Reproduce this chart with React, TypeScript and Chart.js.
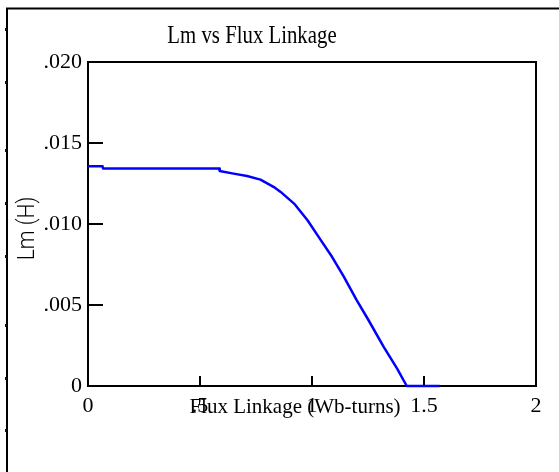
import React, { useEffect, useRef } from "react";
import { Chart, registerables } from "chart.js";

Chart.register(...registerables);

// ---- data ----
const fluxLinkage = [
  0, 0.065, 0.067, 0.585, 0.588, 0.65, 0.71, 0.77, 0.83, 0.86, 0.92, 0.98,
  1.04, 1.09, 1.14, 1.2, 1.25, 1.32, 1.38, 1.423, 1.57,
];
const lmValues = [
  0.01356, 0.01356, 0.01342, 0.01342, 0.01327, 0.01311, 0.01296, 0.01274,
  0.01228, 0.01198, 0.01126, 0.01023, 0.00899, 0.00796, 0.0068, 0.00529,
  0.00412, 0.00241, 0.00107, 0, 0,
];
const xTickValues = [0, 0.5, 1, 1.5, 2];
const xTickLabels = ["0", ".5", "1", "1.5", "2"];
const yTickValues = [0, 0.005, 0.01, 0.015, 0.02];
const yTickLabels = ["0", ".005", ".010", ".015", ".020"];
const chartTitle = "Lm vs Flux Linkage";
const xTitle = "Flux Linkage (Wb-turns)";
const yTitle = "Lm (H)";

const SERIF = "'Liberation Serif', 'Times New Roman', serif";
const SANS_LIGHT = "300 24px Roboto, 'Liberation Sans', Arial, sans-serif";

const framePlugin = {
  id: "frame",
  beforeDatasetsDraw(chart: any) {
    const { ctx, chartArea: a, scales } = chart;
    ctx.save();
    ctx.strokeStyle = "#000";
    ctx.lineWidth = 2;
    ctx.strokeRect(a.left, a.top, a.right - a.left, a.bottom - a.top);
    ctx.beginPath();
    yTickValues.forEach((v) => {
      const py = scales.y.getPixelForValue(v);
      ctx.moveTo(a.left, py);
      ctx.lineTo(a.left + 15, py);
    });
    xTickValues.forEach((v) => {
      const px = scales.x.getPixelForValue(v);
      ctx.moveTo(px, a.bottom);
      ctx.lineTo(px, a.bottom - 10);
    });
    ctx.stroke();

    // outer page frame
    ctx.lineWidth = 2;
    ctx.beginPath();
    ctx.moveTo(7, 472);
    ctx.lineTo(7, 8.5);
    ctx.lineTo(559, 8.5);
    ctx.stroke();
    ctx.fillStyle = "#111";
    [29, 82, 150, 203, 256, 325, 378, 430].forEach((py) => {
      ctx.fillRect(5, py - 1, 2, 3);
    });
    ctx.restore();
  },
  afterDraw(chart: any) {
    const { ctx } = chart;
    ctx.save();
    ctx.fillStyle = "#000";
    // chart title (condensed look)
    ctx.save();
    ctx.translate(252, 43);
    ctx.scale(0.8, 1);
    ctx.font = `26px ${SERIF}`;
    ctx.textAlign = "center";
    ctx.textBaseline = "alphabetic";
    ctx.fillText(chartTitle, 0, 0);
    ctx.restore();

    // x axis title
    ctx.font = `21px ${SERIF}`;
    ctx.textAlign = "center";
    ctx.textBaseline = "alphabetic";
    ctx.fillText(xTitle, 295, 413);

    // y axis title
    ctx.save();
    ctx.translate(34, 228.5);
    ctx.rotate(-Math.PI / 2);
    ctx.scale(0.88, 1);
    ctx.font = SANS_LIGHT;
    ctx.textAlign = "center";
    ctx.textBaseline = "alphabetic";
    ctx.fillText(yTitle, 0, 0);
    ctx.restore();
    ctx.restore();
  },
};

export default function App() {
  const ref = useRef<HTMLCanvasElement>(null);

  useEffect(() => {
    if (!ref.current) return;
    const points = fluxLinkage.map((x, i) => ({ x, y: lmValues[i] }));
    const chart = new Chart(ref.current, {
      type: "line",
      data: {
        datasets: [
          {
            data: points,
            borderColor: "#0000ff",
            backgroundColor: "#0000ff",
            borderWidth: 2.5,
            borderJoinStyle: "round",
            borderCapStyle: "butt",
            pointRadius: 0,
            tension: 0,
            fill: false,
            clip: 6,
          } as any,
        ],
      },
      options: {
        responsive: false,
        animation: false,
        devicePixelRatio: 1,
        layout: { padding: { left: 0, top: 62, right: 23, bottom: 0 } },
        plugins: {
          legend: { display: false },
          title: { display: false },
          tooltip: { enabled: false },
        },
        scales: {
          x: {
            type: "linear",
            min: 0,
            max: 2,
            afterFit: (s: any) => {
              s.height = 86;
            },
            afterBuildTicks: (s: any) => {
              s.ticks = xTickValues.map((v) => ({ value: v }));
            },
            grid: { display: false, drawTicks: false },
            border: { display: false },
            ticks: {
              padding: 7,
              autoSkip: false,
              maxRotation: 0,
              color: "#000",
              font: { family: SERIF, size: 22 },
              callback: (v: any) => {
                const i = xTickValues.indexOf(Number(v));
                return i >= 0 ? xTickLabels[i] : "";
              },
            },
          },
          y: {
            type: "linear",
            min: 0,
            max: 0.02,
            afterFit: (s: any) => {
              s.width = 88;
            },
            afterBuildTicks: (s: any) => {
              s.ticks = yTickValues.map((v) => ({ value: v }));
            },
            grid: { display: false, drawTicks: false },
            border: { display: false },
            ticks: {
              padding: 6,
              autoSkip: false,
              color: "#000",
              font: { family: SERIF, size: 22 },
              callback: (v: any) => {
                const i = yTickValues.findIndex((t) => Math.abs(t - Number(v)) < 1e-9);
                return i >= 0 ? yTickLabels[i] : "";
              },
            },
          },
        },
      },
      plugins: [framePlugin],
    });
    return () => chart.destroy();
  }, []);

  return (
    <div style={{ position: "fixed", left: 0, top: 0, width: 559, height: 472, background: "#fff" }}>
      <canvas ref={ref} width={559} height={472} style={{ display: "block", width: 559, height: 472 }} />
    </div>
  );
}
